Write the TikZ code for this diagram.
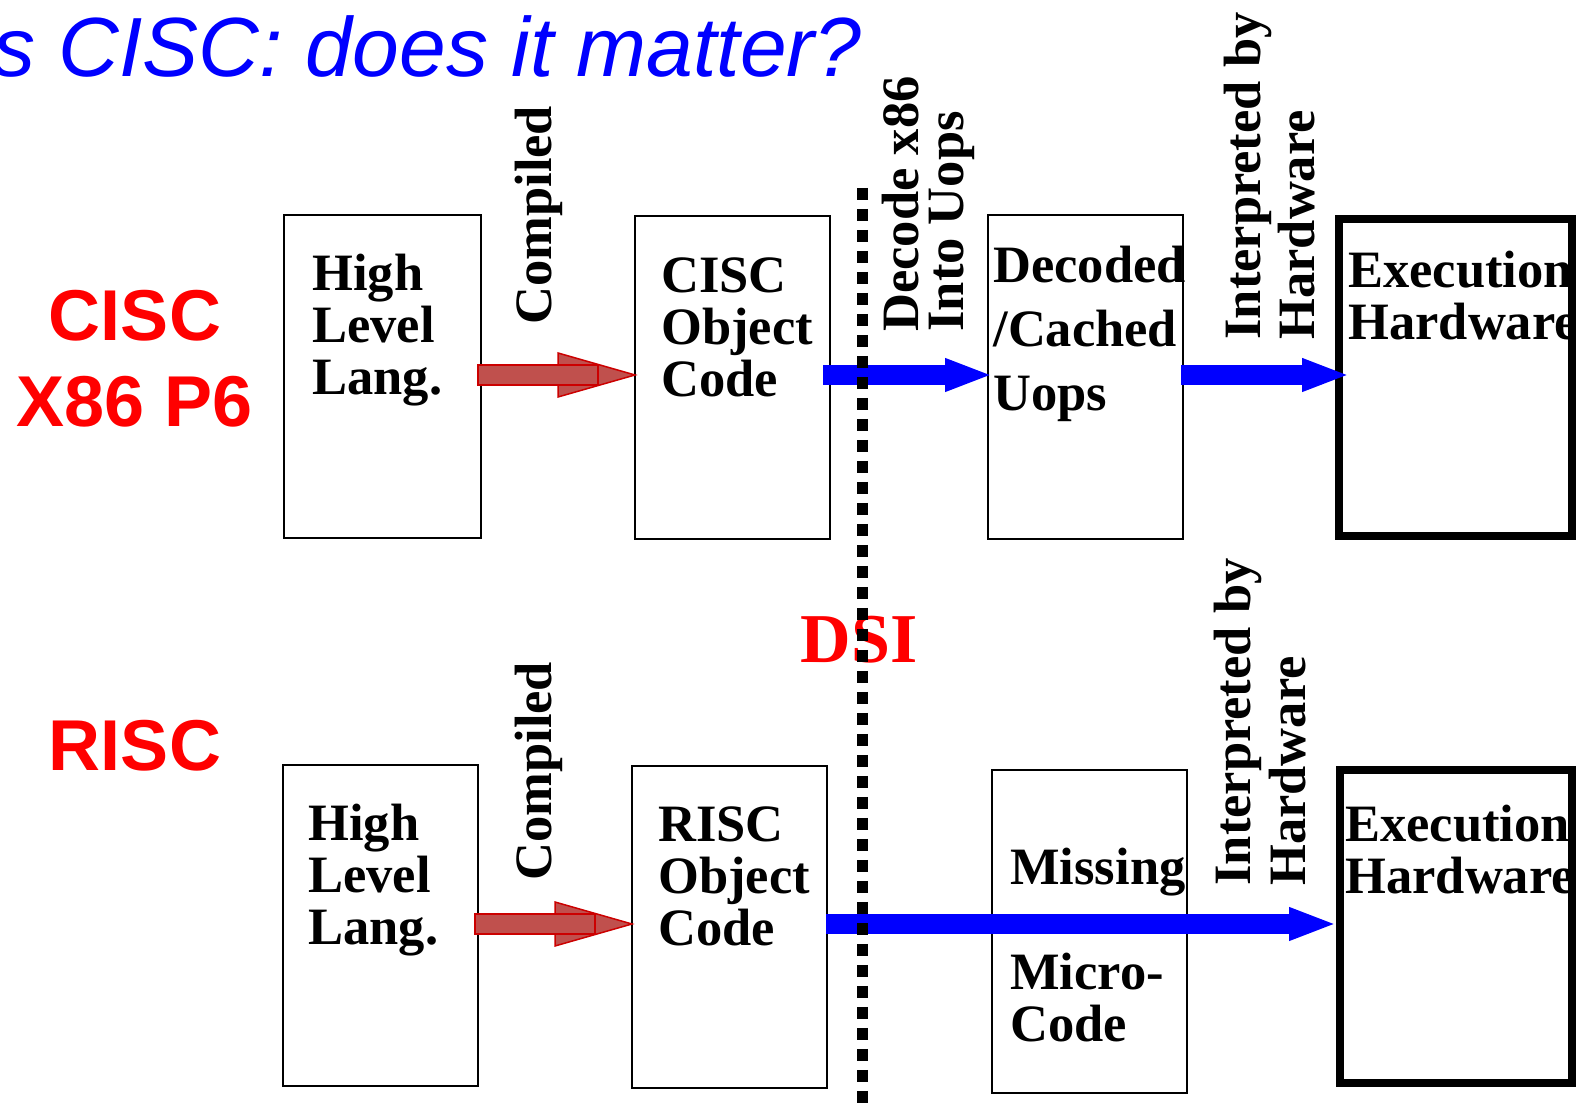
\documentclass[tikz,border=0pt]{standalone}
\usepackage{fontspec}
\setmainfont{Liberation Serif}
\setsansfont{Liberation Sans}
\usetikzlibrary{arrows.meta,calc}

\definecolor{tagred}{RGB}{255,0,0}
\definecolor{flowblue}{RGB}{0,0,255}
\definecolor{compfill}{RGB}{192,80,77}
\definecolor{compline}{RGB}{204,0,0}

\tikzset{
  box/.style={draw, line width=1.25pt, inner sep=0pt, outer sep=0pt, anchor=north west},
  exebox/.style={box, line width=4pt},
  % multi-line texts are placed by the baseline of their last line
  boxtext/.style={anchor=base west, align=left, inner sep=0pt,
    font=\fontsize{26.25pt}{26pt}\selectfont\bfseries},
  sidetext/.style={boxtext, rotate=90},
  tag/.style={anchor=base, inner sep=0pt, text=tagred,
    font=\fontsize{36pt}{42pt}\selectfont\sffamily\bfseries},
  flow/.style={draw=flowblue, line width=10pt, -{Triangle[length=24pt,width=15pt]}},
  comparrow/.style={fill=compfill, draw=compline, line width=0.75pt},
  dsiline/.style={line width=5.5pt, dash pattern=on 6pt off 4.5pt},
}

% block arrow: #1 tail point, #2 tip point
\newcommand\compiledarrow[2]{%
  \filldraw[comparrow] ($(#2)+(-77,-22)$) -- (#2) -- ($(#2)+(-77,22)$) -- cycle;
  \filldraw[comparrow] ($(#1)+(-3,-10)$) rectangle ($(#1)+(117,10)$);
}

\begin{document}
\begin{tikzpicture}[x=0.5pt, y=-0.5pt]
\useasboundingbox (0,0) rectangle (1576,1111);

% title
\node[anchor=base east, inner sep=0pt, text=flowblue,
  font=\fontsize{42pt}{48pt}\selectfont\sffamily\itshape] (title) at (862,77)
  {s CISC: does it matter?};

% row labels
\node[tag] (ciscA) at (135,341) {CISC};
\node[tag] (ciscB) at (135,427) {X86 P6};
\node[tag] (risc) at (135,771) {RISC};

% upper row boxes
\node[box, minimum width=98.5pt, minimum height=161.5pt] (hllA) at (284,215) {};
\node[box, minimum width=97.5pt, minimum height=161.5pt] (objA) at (635,216) {};
\node[box, minimum width=97.5pt, minimum height=162pt] (uops) at (988,215) {};

% lower row boxes
\node[box, minimum width=97.5pt, minimum height=160.5pt] (hllB) at (283,765) {};
\node[box, minimum width=97.5pt, minimum height=161pt] (objB) at (632,766) {};
\node[box, minimum width=97.5pt, minimum height=161.5pt] (micro) at (992,770) {};

% box texts
\node[boxtext] (hllAtxt) at (312,395) {High\\Level\\Lang.};
\node[boxtext] (objAtxt) at (661,397) {CISC\\Object\\Code};
\node[boxtext, font=\fontsize{26.25pt}{32pt}\selectfont\bfseries] (uopstxt) at (993,411) {Decoded\\/Cached\\Uops};
\node[boxtext] (exeAtxt) at (1348,340) {Execution\\Hardware};
\node[boxtext] (hllBtxt) at (308,945) {High\\Level\\Lang.};
\node[boxtext] (objBtxt) at (658,946) {RISC\\Object\\Code};
\node[boxtext] (microtxt) at (1010,1042) {Missing\\[26.5pt]Micro-\\Code};
\node[boxtext] (exeBtxt) at (1345,894) {Execution\\Hardware};

% execution hardware boxes
\node[exebox, minimum width=116.5pt, minimum height=158.5pt] (exeA) at (1339,219) {};
\node[exebox, minimum width=116pt, minimum height=156.5pt] (exeB) at (1340,770) {};

% rotated labels
\node[sidetext] (compA) at (551,325) {Compiled};
\node[sidetext] (compB) at (551,881) {Compiled};
\node[sidetext, font=\fontsize{26.25pt}{22.5pt}\selectfont\bfseries] (decode) at (963,332) {Decode x86\\Into Uops};
\node[sidetext, font=\fontsize{26.25pt}{27pt}\selectfont\bfseries] (interpA) at (1314,340) {Interpreted by\\Hardware};
\node[sidetext, font=\fontsize{26.25pt}{27.5pt}\selectfont\bfseries] (interpB) at (1305,886) {Interpreted by\\Hardware};

% connector rows
\coordinate (rowA) at (0,375);
\coordinate (rowB) at (0,924);

% compile arrows
\coordinate (cA0) at (hllA.east |- rowA);
\coordinate (cA1) at (objA.west |- rowA);
\coordinate (cB0) at (hllB.east |- rowB);
\coordinate (cB1) at (objB.west |- rowB);
\compiledarrow{cA0}{cA1}
\compiledarrow{cB0}{cB1}

% flow arrows
\draw[flow] ($(objA.east |- rowA)+(-7,0)$) -- ($(uops.west |- rowA)+(5,0)$);
\draw[flow] ($(uops.east |- rowA)+(-2,0)$) -- ($(exeA.west |- rowA)+(11,0)$);
\draw[flow] ($(objB.east |- rowB)+(-1,0)$) -- ($(exeB.west |- rowB)+(-3,0)$);

% DSI label and boundary
\node[tag, font=\fontsize{35pt}{42pt}\selectfont\bfseries] (dsi) at (859,663) {DSI};
\coordinate (dsiTop) at (862,188);
\coordinate (dsiBot) at (862,1120);
\draw[dsiline] (dsiTop) -- (dsiBot);
\end{tikzpicture}
\end{document}
